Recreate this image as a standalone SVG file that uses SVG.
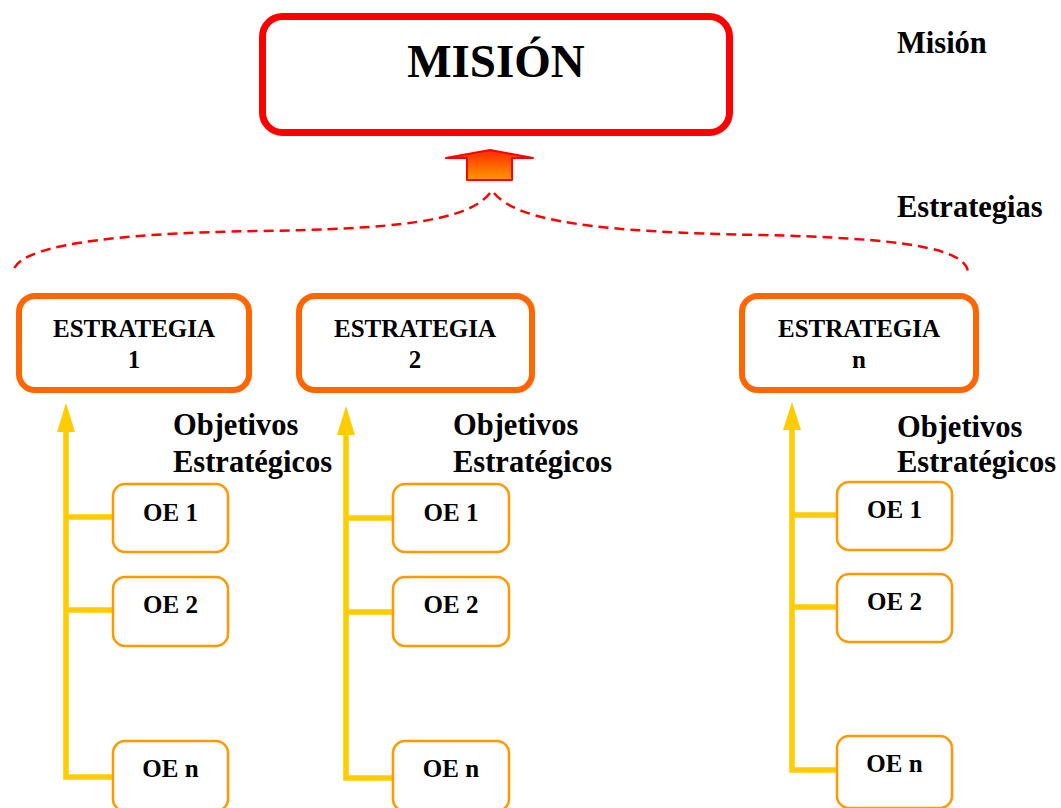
<svg xmlns="http://www.w3.org/2000/svg" width="1061" height="808" viewBox="0 0 1061 808" font-family="'Liberation Serif', 'Times New Roman', serif">
  <defs>
    <linearGradient id="upGrad" x1="0" y1="0" x2="0" y2="1">
      <stop offset="0" stop-color="#ff2a00"/>
      <stop offset="1" stop-color="#ff9900"/>
    </linearGradient>
    <style>
      text { font-family: "Liberation Serif", "Times New Roman", serif; font-weight: bold; fill: #000; }
      .mission { fill: #fff; stroke: #ff0000; stroke-width: 7; }
      .strat { fill: #fff; stroke: #ff6600; stroke-width: 6; }
      .oe { fill: #fff; stroke: #ff9900; stroke-width: 2.5; }
      .trunk { fill: none; stroke: #ffcc00; stroke-width: 5.5; stroke-linejoin: miter; }
      .head { fill: #ffcc00; }
      .dash { fill: none; stroke: #ff0000; stroke-width: 2.5; stroke-dasharray: 10 6; }
      .t-big { font-size: 47px; }
      .t-side { font-size: 30.5px; }
      .t-obj { font-size: 30.5px; }
      .t-box { font-size: 25px; }
    </style>
  </defs>
  <rect width="1061" height="808" fill="#fff"/>

  <!-- connectors: upward arrow, dashed brace, objective trunks -->
  <g id="connectors">
    <polygon points="446,158 490,150 533,158 512,158 512,180 467,180 467,158" fill="url(#upGrad)" stroke="#ff0000" stroke-width="2" stroke-linejoin="round"/>
    <path class="dash" d="M490 193 C468 222 390 229 260 231 C110 233 14 246 13 273"/>
    <path class="dash" d="M494 193 C518 222 600 232 760 235 C900 238 968 248 968 273"/>

    <!-- column 1 -->
    <path class="trunk" d="M66 430 V777 H112 M66 517 H112 M66 610 H112"/>
    <polygon class="head" points="66,403 57,432 75,432"/>
    <!-- column 2 -->
    <path class="trunk" d="M346 433 V778 H392 M346 518 H392 M346 612 H392"/>
    <polygon class="head" points="346,406 337,435 355,435"/>
    <!-- column n -->
    <path class="trunk" d="M792 428 V770 H836 M792 515 H836 M792 607 H836"/>
    <polygon class="head" points="792,402 783,430 801,430"/>
  </g>

  <g id="mision">
    <rect class="mission" x="262.5" y="16.5" width="467" height="116" rx="20"/>
    <text class="t-big" x="496" y="77" text-anchor="middle">MISIÓN</text>
  </g>

  <g id="label-mision"><text class="t-side" x="897" y="53">Misión</text></g>
  <g id="label-estrategias"><text class="t-side" x="897" y="217">Estrategias</text></g>

  <g id="estrategia-1">
    <rect class="strat" x="19" y="296" width="230" height="94" rx="16"/>
    <text class="t-box" x="134" y="337" text-anchor="middle">ESTRATEGIA</text>
    <text class="t-box" x="134" y="368" text-anchor="middle">1</text>
  </g>
  <g id="estrategia-2">
    <rect class="strat" x="299" y="296" width="233" height="94" rx="16"/>
    <text class="t-box" x="415" y="337" text-anchor="middle">ESTRATEGIA</text>
    <text class="t-box" x="415" y="368" text-anchor="middle">2</text>
  </g>
  <g id="estrategia-n">
    <rect class="strat" x="742" y="296" width="234" height="94" rx="16"/>
    <text class="t-box" x="859" y="337" text-anchor="middle">ESTRATEGIA</text>
    <text class="t-box" x="859" y="368" text-anchor="middle">n</text>
  </g>

  <g id="objetivos-1">
    <text class="t-obj" x="173" y="435">Objetivos</text>
    <text class="t-obj" x="173" y="472">Estratégicos</text>
  </g>
  <g id="objetivos-2">
    <text class="t-obj" x="453" y="435">Objetivos</text>
    <text class="t-obj" x="453" y="472">Estratégicos</text>
  </g>
  <g id="objetivos-n">
    <text class="t-obj" x="897" y="437">Objetivos</text>
    <text class="t-obj" x="897" y="472">Estratégicos</text>
  </g>

  <!-- objective boxes, column 1 -->
  <g id="c1-oe1"><rect class="oe" x="113" y="484" width="115" height="68" rx="12"/><text class="t-box" x="170.5" y="521" text-anchor="middle">OE 1</text></g>
  <g id="c1-oe2"><rect class="oe" x="113" y="577" width="115" height="69" rx="12"/><text class="t-box" x="170.5" y="613" text-anchor="middle">OE 2</text></g>
  <g id="c1-oen"><rect class="oe" x="113" y="741" width="115" height="70" rx="12"/><text class="t-box" x="170.5" y="777" text-anchor="middle">OE n</text></g>

  <!-- objective boxes, column 2 -->
  <g id="c2-oe1"><rect class="oe" x="393" y="484" width="116" height="68" rx="12"/><text class="t-box" x="451" y="521" text-anchor="middle">OE 1</text></g>
  <g id="c2-oe2"><rect class="oe" x="393" y="577" width="116" height="69" rx="12"/><text class="t-box" x="451" y="613" text-anchor="middle">OE 2</text></g>
  <g id="c2-oen"><rect class="oe" x="393" y="741" width="116" height="70" rx="12"/><text class="t-box" x="451" y="777" text-anchor="middle">OE n</text></g>

  <!-- objective boxes, column n -->
  <g id="cn-oe1"><rect class="oe" x="837" y="482" width="115" height="68" rx="12"/><text class="t-box" x="894.5" y="518" text-anchor="middle">OE 1</text></g>
  <g id="cn-oe2"><rect class="oe" x="837" y="574" width="115" height="68" rx="12"/><text class="t-box" x="894.5" y="610" text-anchor="middle">OE 2</text></g>
  <g id="cn-oen"><rect class="oe" x="837" y="736" width="115" height="72" rx="12"/><text class="t-box" x="894.5" y="772" text-anchor="middle">OE n</text></g>
</svg>
